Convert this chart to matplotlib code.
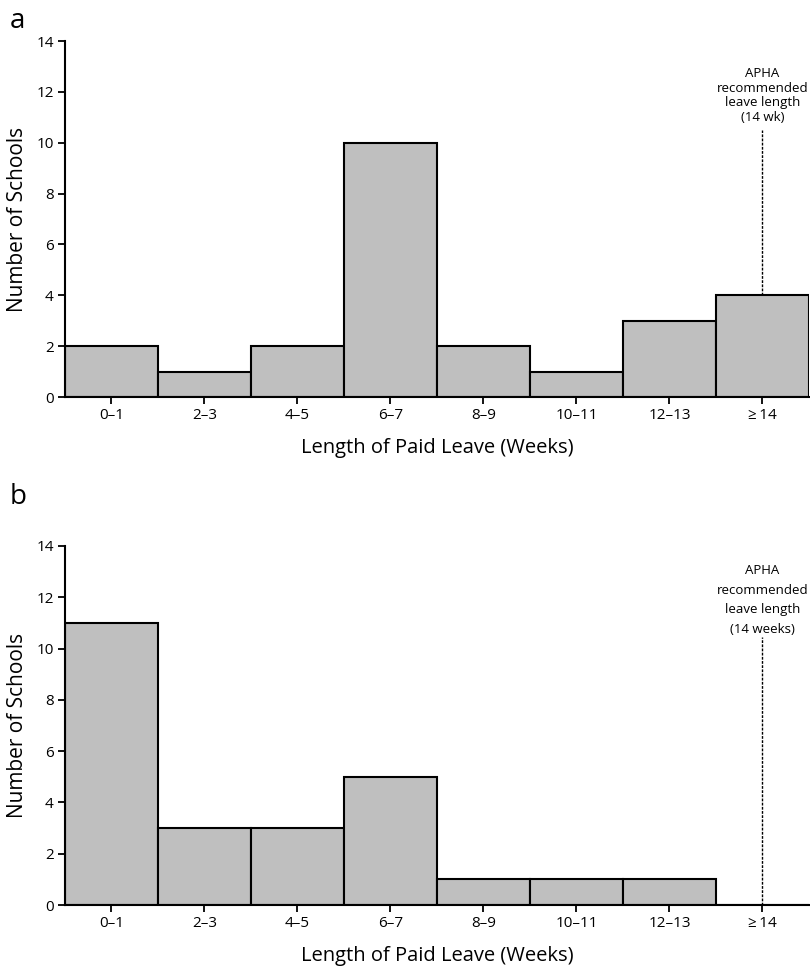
import matplotlib.pyplot as plt
import numpy as np

plt.rcParams['font.family'] = ['Open Sans', 'DejaVu Sans']

categories = ['0\u20131', '2\u20133', '4\u20135', '6\u20137', '8\u20139',
              '10\u201311', '12\u201313', '\u2265\u200914']
counts_a = [2, 1, 2, 10, 2, 1, 3, 4]
counts_b = [11, 3, 3, 5, 1, 1, 1, 0]
yticks = [0, 2, 4, 6, 8, 10, 12, 14]

note_a = 'APHA\nrecommended\nleave length\n(14 wk)'
note_b = 'APHA\nrecommended\nleave length\n(14 weeks)'


def panel(ax, counts, note, line_top, text_y, spacing):
    x = np.arange(len(categories))
    ax.bar(x, counts, width=1.0, color='#bfbfbf', edgecolor='black',
           linewidth=1.5, zorder=2)
    ax.set_xlim(-0.5, len(categories) - 0.5)
    ax.set_ylim(0, 14)
    ax.set_yticks(yticks)
    ax.set_xticks(x)
    ax.set_xticklabels(categories)
    ax.tick_params(axis='both', labelsize=11, width=1.3, length=5, pad=3)
    ax.spines['top'].set_visible(False)
    ax.spines['right'].set_visible(False)
    ax.spines['left'].set_linewidth(1.5)
    ax.spines['bottom'].set_linewidth(1.5)
    ax.set_ylabel('Number of Schools', fontsize=15, labelpad=6)
    ax.set_xlabel('Length of Paid Leave (Weeks)', fontsize=14.5, labelpad=11)
    # recommended leave marker
    last = len(categories) - 1
    ax.plot([last, last], [counts[last], line_top], color='black',
            linewidth=1.0, linestyle=(0, (2, 1)), zorder=3)
    ax.text(last, text_y, note, ha='center', va='bottom', fontsize=9.5,
            linespacing=spacing, zorder=3)


fig = plt.figure(figsize=(8.1, 9.67), dpi=100)
ax_a = fig.add_axes([0.0802, 0.5894, 0.9185, 0.3682])
ax_b = fig.add_axes([0.0802, 0.0641, 0.9185, 0.3713])

panel(ax_a, counts_a, note_a, 10.5, 10.75, 1.15)
panel(ax_b, counts_b, note_b, 10.45, 10.5, 1.65)

fig.text(0.012, 0.978, 'a', fontsize=20, va='center', ha='left')
fig.text(0.012, 0.486, 'b', fontsize=20, va='center', ha='left')

fig.savefig('out.png', dpi=100)
